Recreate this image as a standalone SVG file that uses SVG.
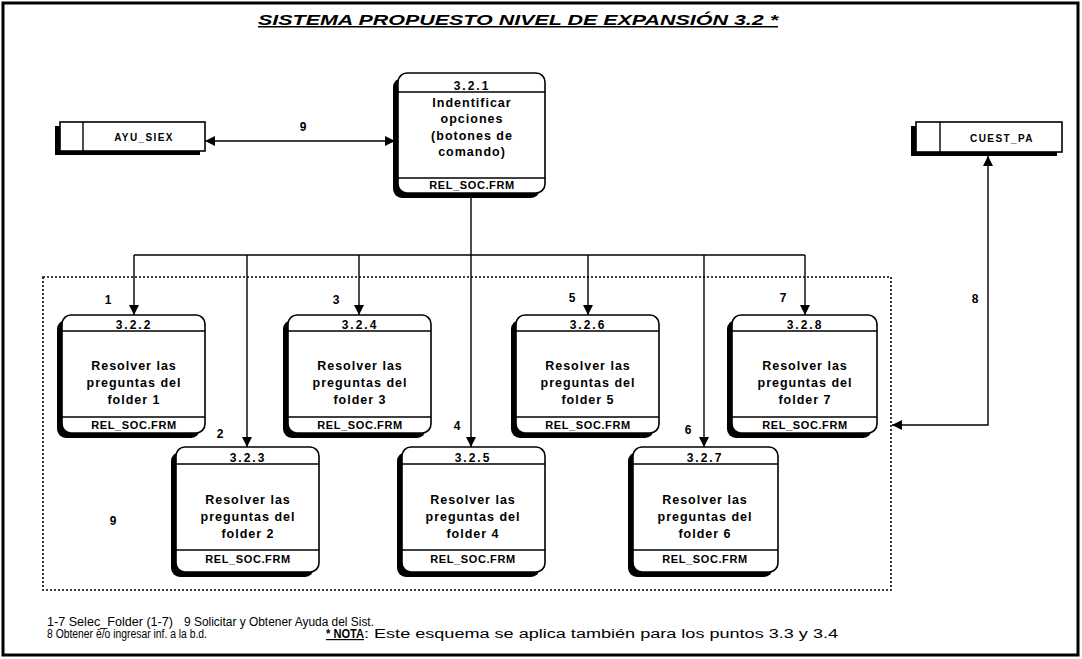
<svg xmlns="http://www.w3.org/2000/svg" width="1082" height="659" viewBox="0 0 1082 659">
  <style>
    text { font-family: "Liberation Sans", Arial, sans-serif; fill: #000; }
    .title { font-size: 15px; font-weight: bold; font-style: italic; text-decoration: underline; }
    .nid { font-size: 12px; font-weight: bold; letter-spacing: 2px; text-anchor: middle; }
    .body { font-size: 12.5px; font-weight: bold; letter-spacing: 1px; text-anchor: middle; }
    .foot { font-size: 11px; font-weight: bold; letter-spacing: 0.6px; text-anchor: middle; }
    .store { font-size: 10px; font-weight: bold; letter-spacing: 1.4px; text-anchor: middle; }
    .lbl { font-size: 12px; font-weight: bold; text-anchor: middle; }
    .note { font-size: 12px; }
    .frame { fill: none; stroke: #000; stroke-width: 3; }
    .group { fill: none; stroke: #000; stroke-width: 1.6; stroke-dasharray: 2 2; }
    .shadow { fill: #000; }
    .box { fill: #fff; stroke: #000; stroke-width: 1.6; }
    .div { stroke: #000; stroke-width: 1.4; }
    .flow { fill: none; stroke: #000; stroke-width: 1.4; }
  </style>
  <defs>
    <marker id="arrow" viewBox="0 0 10 10" refX="10" refY="5" markerWidth="10" markerHeight="10" markerUnits="userSpaceOnUse" orient="auto-start-reverse">
      <path d="M0,0 L10,5 L0,10 z" fill="#000"/>
    </marker>
  </defs>

  <rect width="1082" height="659" fill="#fff"/>
  <rect class="frame" x="3" y="3" width="1075" height="652"/>

  <text class="title" x="258" y="25" textLength="520" lengthAdjust="spacingAndGlyphs">SISTEMA PROPUESTO NIVEL DE EXPANSIÓN  3.2 *</text>

  <!-- dotted boundary around the folder processes -->
  <rect class="group" x="43" y="277" width="848" height="313"/>

  <!-- connectors -->
  <g id="connectors">
    <path class="flow" d="M205,141 H395" marker-start="url(#arrow)" marker-end="url(#arrow)"/>
    <path class="flow" d="M471,193 V447" marker-end="url(#arrow)"/>
    <path class="flow" d="M134,255 H805"/>
    <path class="flow" d="M134,255 V315" marker-end="url(#arrow)"/>
    <path class="flow" d="M247,255 V447" marker-end="url(#arrow)"/>
    <path class="flow" d="M359,255 V315" marker-end="url(#arrow)"/>
    <path class="flow" d="M588,255 V315" marker-end="url(#arrow)"/>
    <path class="flow" d="M704,255 V447" marker-end="url(#arrow)"/>
    <path class="flow" d="M805,255 V315" marker-end="url(#arrow)"/>
    <path class="flow" d="M892,425 H988 V156" marker-start="url(#arrow)" marker-end="url(#arrow)"/>
    <text class="lbl" x="303" y="131">9</text>
    <text class="lbl" x="108" y="304">1</text>
    <text class="lbl" x="336" y="304">3</text>
    <text class="lbl" x="572" y="302">5</text>
    <text class="lbl" x="783" y="302">7</text>
    <text class="lbl" x="220" y="438">2</text>
    <text class="lbl" x="457" y="430">4</text>
    <text class="lbl" x="688" y="434">6</text>
    <text class="lbl" x="975" y="303">8</text>
    <text class="lbl" x="113" y="525">9</text>
  </g>

  <!-- data stores -->
  <g id="ayu_siex">
    <rect class="shadow" x="55" y="126" width="145" height="29"/>
    <rect class="box" x="60" y="122" width="145" height="29"/>
    <line class="div" x1="83" y1="122" x2="83" y2="151"/>
    <text class="store" x="144" y="141">AYU_SIEX</text>
  </g>
  <g id="cuest_pa">
    <rect class="shadow" x="911" y="126" width="146" height="30"/>
    <rect class="box" x="916" y="122" width="146" height="30"/>
    <line class="div" x1="940" y1="122" x2="940" y2="152"/>
    <text class="store" x="1002" y="142">CUEST_PA</text>
  </g>

  <!-- process 3.2.1 -->
  <g id="p321">
    <rect class="shadow" x="393" y="78" width="147" height="120" rx="9"/>
    <rect class="box" x="398" y="73" width="147" height="120" rx="9"/>
    <line class="div" x1="398" y1="92" x2="545" y2="92"/>
    <line class="div" x1="398" y1="178" x2="545" y2="178"/>
    <text class="nid" x="472" y="90">3.2.1</text>
    <text class="body" x="472" y="107">Indentificar</text>
    <text class="body" x="472" y="123">opciones</text>
    <text class="body" x="472" y="140">(botones de</text>
    <text class="body" x="472" y="156">comando)</text>
    <text class="foot" x="472" y="189">REL_SOC.FRM</text>
  </g>

  <!-- upper row of folder processes -->
  <g id="p322">
    <rect class="shadow" x="57" y="320" width="143" height="118" rx="9"/>
    <rect class="box" x="62" y="315" width="143" height="118" rx="9"/>
    <line class="div" x1="62" y1="331" x2="205" y2="331"/>
    <line class="div" x1="62" y1="417" x2="205" y2="417"/>
    <text class="nid" x="134" y="329">3.2.2</text>
    <text class="body" x="134" y="370">Resolver las</text>
    <text class="body" x="134" y="387">preguntas del</text>
    <text class="body" x="134" y="404">folder 1</text>
    <text class="foot" x="134" y="429">REL_SOC.FRM</text>
  </g>
  <g id="p324">
    <rect class="shadow" x="283" y="320" width="143" height="118" rx="9"/>
    <rect class="box" x="288" y="315" width="143" height="118" rx="9"/>
    <line class="div" x1="288" y1="331" x2="431" y2="331"/>
    <line class="div" x1="288" y1="417" x2="431" y2="417"/>
    <text class="nid" x="360" y="329">3.2.4</text>
    <text class="body" x="360" y="370">Resolver las</text>
    <text class="body" x="360" y="387">preguntas del</text>
    <text class="body" x="360" y="404">folder 3</text>
    <text class="foot" x="360" y="429">REL_SOC.FRM</text>
  </g>
  <g id="p326">
    <rect class="shadow" x="511" y="320" width="143" height="118" rx="9"/>
    <rect class="box" x="516" y="315" width="143" height="118" rx="9"/>
    <line class="div" x1="516" y1="331" x2="659" y2="331"/>
    <line class="div" x1="516" y1="417" x2="659" y2="417"/>
    <text class="nid" x="588" y="329">3.2.6</text>
    <text class="body" x="588" y="370">Resolver las</text>
    <text class="body" x="588" y="387">preguntas del</text>
    <text class="body" x="588" y="404">folder 5</text>
    <text class="foot" x="588" y="429">REL_SOC.FRM</text>
  </g>
  <g id="p328">
    <rect class="shadow" x="727" y="320" width="145" height="118" rx="9"/>
    <rect class="box" x="732" y="315" width="145" height="118" rx="9"/>
    <line class="div" x1="732" y1="331" x2="877" y2="331"/>
    <line class="div" x1="732" y1="417" x2="877" y2="417"/>
    <text class="nid" x="805" y="329">3.2.8</text>
    <text class="body" x="805" y="370">Resolver las</text>
    <text class="body" x="805" y="387">preguntas del</text>
    <text class="body" x="805" y="404">folder 7</text>
    <text class="foot" x="805" y="429">REL_SOC.FRM</text>
  </g>

  <!-- lower row of folder processes -->
  <g id="p323">
    <rect class="shadow" x="171" y="452" width="143" height="125" rx="9"/>
    <rect class="box" x="176" y="447" width="143" height="125" rx="9"/>
    <line class="div" x1="176" y1="464" x2="319" y2="464"/>
    <line class="div" x1="176" y1="550" x2="319" y2="550"/>
    <text class="nid" x="248" y="462">3.2.3</text>
    <text class="body" x="248" y="504">Resolver las</text>
    <text class="body" x="248" y="521">preguntas del</text>
    <text class="body" x="248" y="538">folder 2</text>
    <text class="foot" x="248" y="563">REL_SOC.FRM</text>
  </g>
  <g id="p325">
    <rect class="shadow" x="397" y="452" width="143" height="125" rx="9"/>
    <rect class="box" x="402" y="447" width="143" height="125" rx="9"/>
    <line class="div" x1="402" y1="464" x2="545" y2="464"/>
    <line class="div" x1="402" y1="550" x2="545" y2="550"/>
    <text class="nid" x="473" y="462">3.2.5</text>
    <text class="body" x="473" y="504">Resolver las</text>
    <text class="body" x="473" y="521">preguntas del</text>
    <text class="body" x="473" y="538">folder 4</text>
    <text class="foot" x="473" y="563">REL_SOC.FRM</text>
  </g>
  <g id="p327">
    <rect class="shadow" x="628" y="452" width="145" height="125" rx="9"/>
    <rect class="box" x="633" y="447" width="145" height="125" rx="9"/>
    <line class="div" x1="633" y1="464" x2="778" y2="464"/>
    <line class="div" x1="633" y1="550" x2="778" y2="550"/>
    <text class="nid" x="705" y="462">3.2.7</text>
    <text class="body" x="705" y="504">Resolver las</text>
    <text class="body" x="705" y="521">preguntas del</text>
    <text class="body" x="705" y="538">folder 6</text>
    <text class="foot" x="705" y="563">REL_SOC.FRM</text>
  </g>

  <!-- legend -->
  <g id="legend">
    <text class="note" x="47" y="626" textLength="126" lengthAdjust="spacingAndGlyphs">1-7  Selec_Folder (1-7)</text>
    <text class="note" x="184" y="626" textLength="190" lengthAdjust="spacingAndGlyphs">9 Solicitar  y  Obtener Ayuda del Sist.</text>
    <text class="note" x="47" y="638" textLength="160" lengthAdjust="spacingAndGlyphs">8 Obtener ē/o ingresar inf. a la b.d.</text>
    <text class="note" x="326" y="638" font-weight="bold" text-decoration="underline" textLength="38" lengthAdjust="spacingAndGlyphs">* NOTA</text>
    <text class="note" x="364" y="638" font-size="13" textLength="474" lengthAdjust="spacingAndGlyphs">: Este esquema se aplica también para los puntos 3.3 y 3.4</text>
  </g>
</svg>
